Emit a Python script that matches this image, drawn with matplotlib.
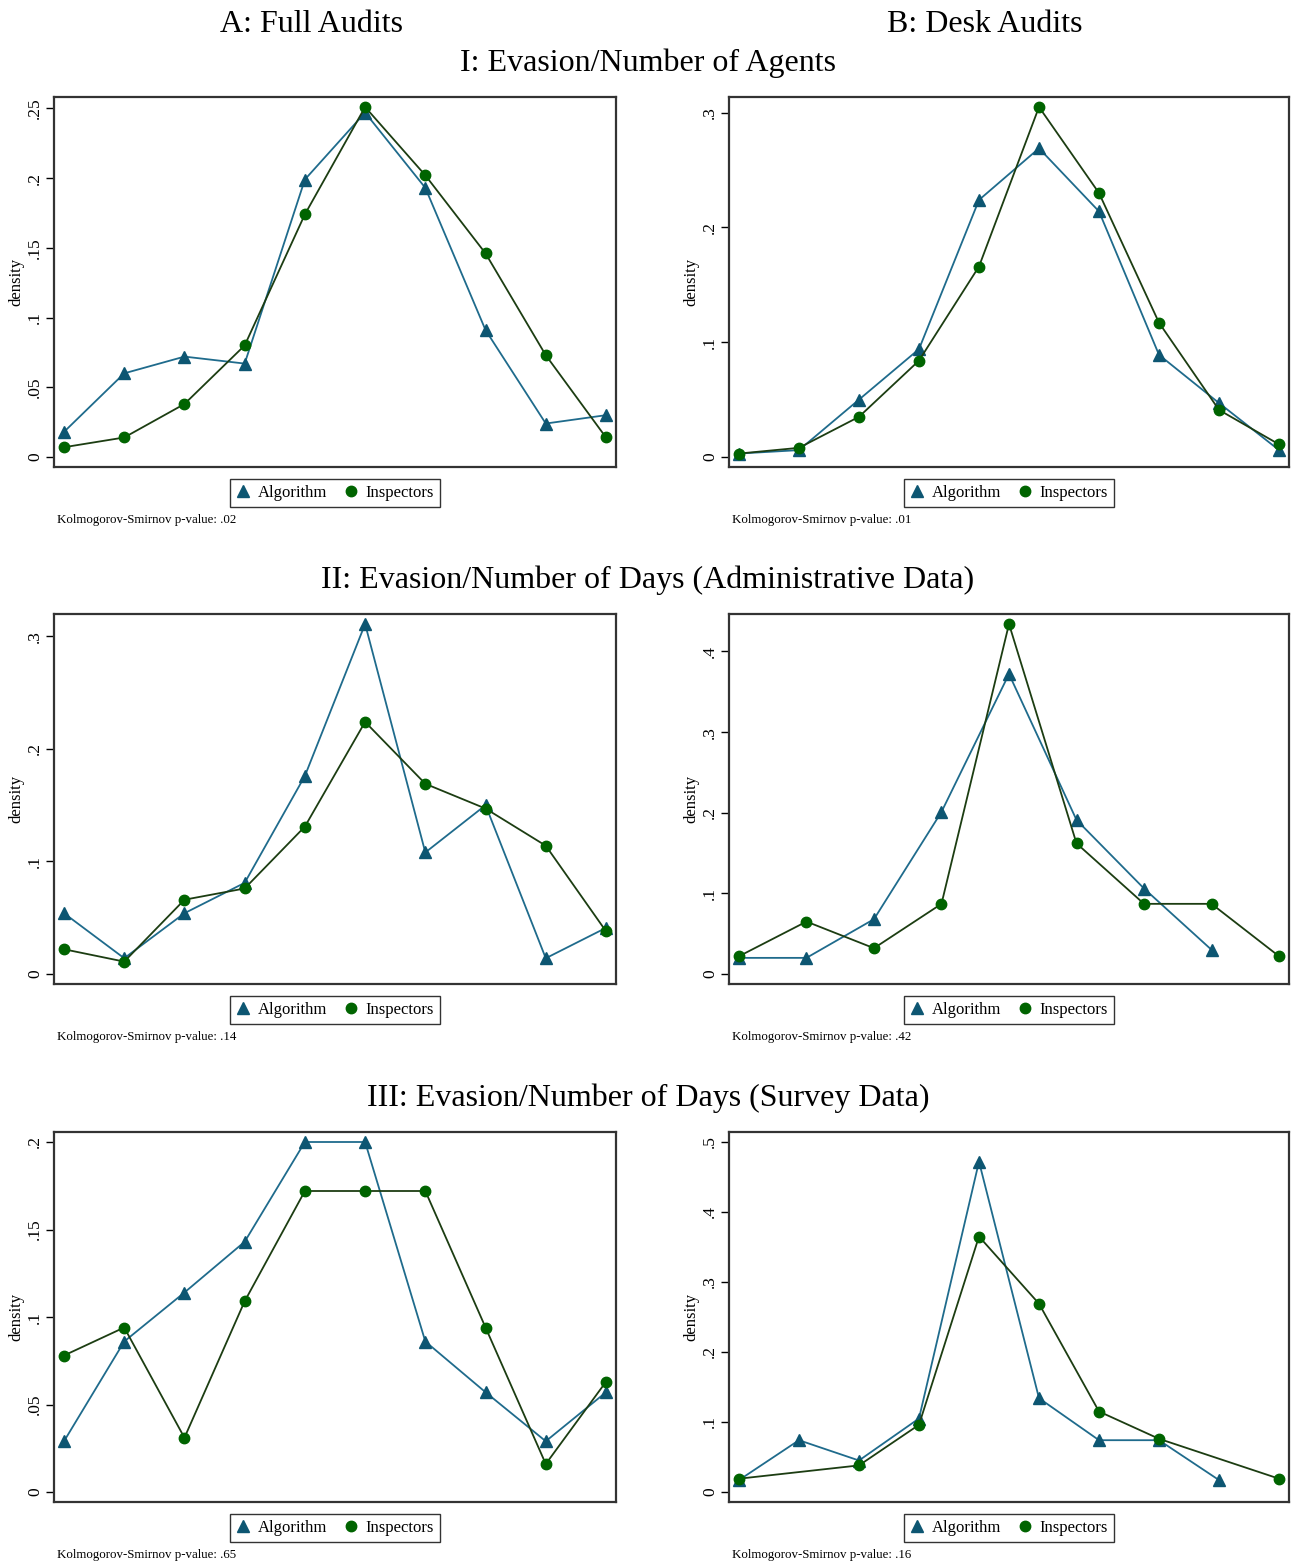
import matplotlib
matplotlib.use("Agg")
import matplotlib.pyplot as plt
from matplotlib.lines import Line2D

plt.rcParams["font.family"] = ["Liberation Serif", "DejaVu Serif"]

# column / row titles
col_titles = ["A: Full Audits", "B: Desk Audits"]
row_titles = ["I: Evasion/Number of Agents",
              "II: Evasion/Number of Days (Administrative Data)",
              "III: Evasion/Number of Days (Survey Data)"]

# I: evasion / number of agents
a1_alg_x = [1, 2, 3, 4, 5, 6, 7, 8, 9, 10]
a1_alg_y = [0.018, 0.060, 0.072, 0.067, 0.199, 0.247, 0.193, 0.091, 0.024, 0.030]
a1_ins_x = [1, 2, 3, 4, 5, 6, 7, 8, 9, 10]
a1_ins_y = [0.007, 0.014, 0.038, 0.080, 0.174, 0.251, 0.202, 0.146, 0.073, 0.014]

b1_alg_x = [1, 2, 3, 4, 5, 6, 7, 8, 9, 10]
b1_alg_y = [0.003, 0.006, 0.050, 0.094, 0.224, 0.269, 0.214, 0.089, 0.047, 0.006]
b1_ins_x = [1, 2, 3, 4, 5, 6, 7, 8, 9, 10]
b1_ins_y = [0.003, 0.008, 0.035, 0.084, 0.166, 0.305, 0.230, 0.117, 0.041, 0.011]

# II: evasion / number of days (administrative data)
a2_alg_x = [1, 2, 3, 4, 5, 6, 7, 8, 9, 10]
a2_alg_y = [0.054, 0.014, 0.054, 0.081, 0.176, 0.311, 0.108, 0.150, 0.014, 0.041]
a2_ins_x = [1, 2, 3, 4, 5, 6, 7, 8, 9, 10]
a2_ins_y = [0.022, 0.011, 0.066, 0.076, 0.131, 0.224, 0.169, 0.147, 0.114, 0.038]

b2_alg_x = [1, 2, 3, 4, 5, 6, 7, 8]
b2_alg_y = [0.020, 0.020, 0.068, 0.201, 0.372, 0.191, 0.106, 0.030]
b2_ins_x = [1, 2, 3, 4, 5, 6, 7, 8, 9]
b2_ins_y = [0.022, 0.065, 0.032, 0.087, 0.434, 0.162, 0.087, 0.087, 0.022]

# III: evasion / number of days (survey data)
a3_alg_x = [1, 2, 3, 4, 5, 6, 7, 8, 9, 10]
a3_alg_y = [0.029, 0.086, 0.114, 0.143, 0.200, 0.200, 0.086, 0.057, 0.029, 0.057]
a3_ins_x = [1, 2, 3, 4, 5, 6, 7, 8, 9, 10]
a3_ins_y = [0.078, 0.094, 0.031, 0.109, 0.172, 0.172, 0.172, 0.094, 0.016, 0.063]

b3_alg_x = [1, 2, 3, 4, 5, 6, 7, 8, 9]
b3_alg_y = [0.017, 0.074, 0.045, 0.105, 0.472, 0.134, 0.074, 0.074, 0.017]
b3_ins_x = [1, 3, 4, 5, 6, 7, 8, 10]
b3_ins_y = [0.019, 0.038, 0.096, 0.365, 0.269, 0.115, 0.076, 0.019]

yticks = [
    [[0, 0.05, 0.1, 0.15, 0.2, 0.25], [0, 0.1, 0.2, 0.3]],
    [[0, 0.1, 0.2, 0.3], [0, 0.1, 0.2, 0.3, 0.4]],
    [[0, 0.05, 0.1, 0.15, 0.2], [0, 0.1, 0.2, 0.3, 0.4, 0.5]],
]
pvalues = [[".02", ".01"], [".14", ".42"], [".65", ".16"]]

panels = [
    [(a1_alg_x, a1_alg_y, a1_ins_x, a1_ins_y), (b1_alg_x, b1_alg_y, b1_ins_x, b1_ins_y)],
    [(a2_alg_x, a2_alg_y, a2_ins_x, a2_ins_y), (b2_alg_x, b2_alg_y, b2_ins_x, b2_ins_y)],
    [(a3_alg_x, a3_alg_y, a3_ins_x, a3_ins_y), (b3_alg_x, b3_alg_y, b3_ins_x, b3_ins_y)],
]

alg_line = "#1f6b8c"
alg_mark = "#0d5672"
ins_line = "#1c3d12"
ins_mark = "#006400"

W, H = 1300, 1567
fig = plt.figure(figsize=(W / 100, H / 100), dpi=100)


def rect(x0, y0, x1, y1):
    return [x0 / W, 1 - y1 / H, (x1 - x0) / W, (y1 - y0) / H]


def fmt(v):
    if v == 0:
        return "0"
    s = ("%g" % v)
    return s[1:] if s.startswith("0.") else s


col_x = [(54, 616), (729, 1289)]
row_top = [97, 614, 1132]
row_title_y = [63, 580, 1098]
ax_h = 370

fig.text(311 / W, 1 - 24 / H, col_titles[0], ha="center", va="center", fontsize=23)
fig.text(985 / W, 1 - 24 / H, col_titles[1], ha="center", va="center", fontsize=23)

for r in range(3):
    fig.text(648 / W, 1 - row_title_y[r] / H, row_titles[r], ha="center", va="center", fontsize=23)
    for c in range(2):
        x0, x1 = col_x[c]
        y0 = row_top[r]
        ax = fig.add_axes(rect(x0, y0, x1, y0 + ax_h))
        ax_x, ax_y, in_x, in_y = panels[r][c]

        ax.plot(ax_x, ax_y, color=alg_line, lw=1.3, marker="^", ms=8,
                mfc=alg_mark, mec=alg_mark, zorder=3)
        ax.plot(in_x, in_y, color=ins_line, lw=1.3, marker="o", ms=7.5,
                mfc=ins_mark, mec=ins_mark, zorder=4)

        # stata-like plot region margins
        xs = ax_x + in_x
        xmin, xmax = min(xs), max(xs)
        xp = (xmax - xmin) * 10 / 542
        ax.set_xlim(xmin - xp, xmax + xp)
        top = max(max(ax_y), max(in_y), yticks[r][c][-1])
        yp = top * 10 / 350
        ax.set_ylim(-yp, top + yp)

        ax.set_xticks([])
        ax.set_yticks(yticks[r][c])
        ax.set_yticklabels([fmt(v) for v in yticks[r][c]], rotation=90, va="center")
        ax.tick_params(axis="y", direction="out", length=6, width=1, labelsize=12.5, pad=2)
        ax.set_ylabel("density", fontsize=12, labelpad=2)
        for s in ax.spines.values():
            s.set_color("#333333")
            s.set_linewidth(1.6)

        handles = [
            Line2D([], [], ls="none", marker="^", ms=8, mfc=alg_mark, mec=alg_mark, label="Algorithm"),
            Line2D([], [], ls="none", marker="o", ms=7.5, mfc=ins_mark, mec=ins_mark, label="Inspectors"),
        ]
        leg = ax.legend(handles=handles, loc="upper center", bbox_to_anchor=(0.5, -0.032),
                        borderaxespad=0, ncol=2, frameon=True, fancybox=False, fontsize=12,
                        handlelength=0.8, handletextpad=0.5, columnspacing=1.0,
                        borderpad=0.35, edgecolor="black")
        leg.get_frame().set_linewidth(1.0)

        fig.text((x0 + 3) / W, 1 - (y0 + ax_h + 53) / H,
                 "Kolmogorov-Smirnov p-value: " + pvalues[r][c],
                 ha="left", va="center", fontsize=9.3)

fig.savefig("out.png", dpi=100, facecolor="white")
